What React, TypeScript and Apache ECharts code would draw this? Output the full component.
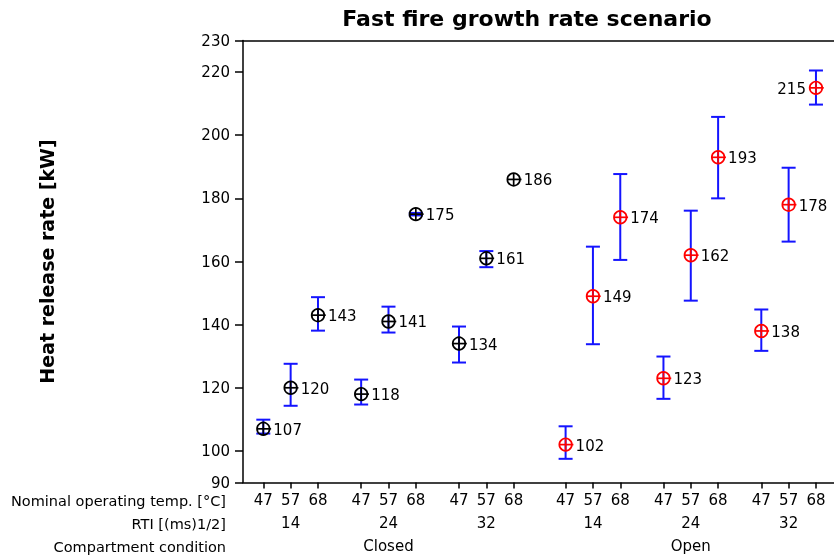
import React, { useEffect, useRef } from "react";
import * as echarts from "echarts";

// ---- data ----
const TEMPS = ["47", "57", "68"];
const RTI = ["14", "24", "32"];
const CONDITIONS = ["Closed", "Open"];
const Y_TICKS = [90, 100, 120, 140, 160, 180, 200, 220, 230];

// values ordered by RTI group (14, 24, 32) then temp (47, 57, 68)
const closedValues = [107, 120, 143, 118, 141, 175, 134, 161, 186];
const closedLow = [105.5, 114.3, 138.1, 114.7, 137.5, 174.6, 128.0, 158.2, 186];
const closedHigh = [109.9, 127.6, 148.7, 122.6, 145.7, 175.4, 139.4, 163.3, 186];

const openValues = [102, 149, 174, 123, 162, 193, 138, 178, 215];
const openLow = [97.5, 133.8, 160.5, 116.5, 147.6, 180.0, 131.7, 166.3, 209.7];
const openHigh = [107.8, 164.7, 187.7, 129.9, 176.1, 205.8, 144.8, 189.7, 220.5];

const LABEL_LEFT = [[], [8]]; // per condition: indices whose label sits left

// ---- layout ----
const GROUP_STEP = 3.58;
const COND_GAP = 0.32;
const X_MIN = -0.743;
const X_MAX = 20.88;
const FONT = "DejaVu Sans";
const BLUE = "#1414ff";
const FS = 15;

const pos = (c: number, r: number, t: number) => (c * 3 + r) * GROUP_STEP + c * COND_GAP + t;

const tickPos: number[] = [];
const tickLab: string[] = [];
const rtiPos: number[] = [];
const rtiLab: string[] = [];
const condPos: number[] = [];
const condLab: string[] = [];
CONDITIONS.forEach((cn, c) => {
  condPos.push(pos(c, 1, 1));
  condLab.push(cn);
  RTI.forEach((rl, r) => {
    rtiPos.push(pos(c, r, 1));
    rtiLab.push(rl);
    TEMPS.forEach((tl, t) => {
      tickPos.push(pos(c, r, t));
      tickLab.push(tl);
    });
  });
});

const fmt = (ps: number[], ls: string[]) => (v: number) => {
  const i = ps.findIndex((p) => Math.abs(p - v) < 1e-6);
  return i >= 0 ? ls[i] : "";
};

export default function App() {
  const ref = useRef<HTMLDivElement>(null);
  useEffect(() => {
    if (!ref.current) return;
    const chart = echarts.init(ref.current, null, { renderer: "svg" });

    const errData: number[][] = [];
    const ptData: any[] = [];
    [
      [closedValues, closedLow, closedHigh],
      [openValues, openLow, openHigh],
    ].forEach(([vals, lo, hi], c) => {
      vals.forEach((v, i) => {
        const r = Math.floor(i / 3);
        const t = i % 3;
        const x = pos(c, r, t);
        errData.push([x, lo[i], hi[i]]);
        ptData.push([x, v, c, LABEL_LEFT[c].includes(i) ? 1 : 0]);
      });
    });

    const baseX = {
      type: "value",
      min: X_MIN,
      max: X_MAX,
      splitLine: { show: false },
    };
    const lab = { margin: 10, color: "#000", fontSize: FS, fontFamily: FONT };

    const option: any = {
      animation: false,
      grid: { left: 243, right: 0, top: 40.5, bottom: 74.5 },
      xAxis: [
        {
          ...baseX,
          position: "bottom",
          axisLine: { show: true, onZero: false, lineStyle: { color: "#000", width: 1.5 } },
          axisTick: { show: true, customValues: tickPos, length: 6, lineStyle: { color: "#000", width: 1.5 } },
          axisLabel: { ...lab, customValues: tickPos, formatter: fmt(tickPos, tickLab) },
        },
        {
          ...baseX,
          position: "bottom",
          offset: 23,
          axisLine: { show: false, onZero: false },
          axisTick: { show: false },
          axisLabel: { ...lab, customValues: rtiPos, formatter: fmt(rtiPos, rtiLab) },
        },
        {
          ...baseX,
          position: "bottom",
          offset: 46,
          axisLine: { show: false, onZero: false },
          axisTick: { show: false },
          axisLabel: { ...lab, customValues: condPos, formatter: fmt(condPos, condLab) },
        },
        {
          ...baseX,
          position: "top",
          axisLine: { show: true, onZero: false, lineStyle: { color: "#000", width: 1.5 } },
          axisTick: { show: false },
          axisLabel: { show: false },
        },
      ],
      yAxis: {
        type: "value",
        min: 90,
        max: 230,
        splitLine: { show: false },
        axisLine: { show: true, onZero: false, lineStyle: { color: "#000", width: 1.5 } },
        axisTick: { show: true, customValues: Y_TICKS, length: 8, lineStyle: { color: "#000", width: 1.5 } },
        axisLabel: { ...lab, margin: 13, customValues: Y_TICKS },
      },
      graphic: [
        {
          type: "text",
          x: 527,
          y: 18,
          style: { text: "Fast fire growth rate scenario", fill: "#000", font: `bold 22px "${FONT}"`, align: "center", verticalAlign: "middle", textAlign: "center", textVerticalAlign: "middle" },
        },
        {
          type: "text",
          x: 47,
          y: 261.5,
          rotation: Math.PI / 2,
          style: { text: "Heat release rate [kW]", fill: "#000", font: `bold 19px "${FONT}"`, align: "center", verticalAlign: "middle", textAlign: "center", textVerticalAlign: "middle" },
        },
        ...["Nominal operating temp. [°C]", "RTI [(ms)1/2]", "Compartment condition"].map((t, i) => ({
          type: "text",
          x: 226,
          y: 500.5 + i * 23,
          style: { text: t, fill: "#000", font: `14.5px "${FONT}"`, align: "right", verticalAlign: "middle", textAlign: "right", textVerticalAlign: "middle" },
        })),
      ],
      series: [
        {
          type: "custom",
          xAxisIndex: 0,
          data: errData,
          renderItem: (params: any, api: any) => {
            const x = api.value(0);
            const lo = api.value(1);
            const hi = api.value(2);
            if (hi - lo < 1e-9) return { type: "group", children: [] };
            const a = api.coord([x, lo]);
            const b = api.coord([x, hi]);
            const hw = 7;
            const st = { stroke: BLUE, lineWidth: 2 };
            return {
              type: "group",
              children: [
                { type: "line", shape: { x1: a[0], y1: a[1], x2: b[0], y2: b[1] }, style: st },
                { type: "line", shape: { x1: a[0] - hw, y1: a[1], x2: a[0] + hw, y2: a[1] }, style: st },
                { type: "line", shape: { x1: b[0] - hw, y1: b[1], x2: b[0] + hw, y2: b[1] }, style: st },
              ],
            };
          },
        },
        {
          type: "custom",
          xAxisIndex: 0,
          data: ptData,
          renderItem: (params: any, api: any) => {
            const x = api.value(0);
            const v = api.value(1);
            const c = api.value(2);
            const left = api.value(3) === 1;
            const p = api.coord([x, v]);
            const col = c === 0 ? "#000" : "#ff0000";
            const r = 6.3;
            const st = { stroke: col, lineWidth: 1.7, fill: "none" };
            return {
              type: "group",
              children: [
                { type: "circle", shape: { cx: p[0], cy: p[1], r }, style: st },
                { type: "line", shape: { x1: p[0] - r, y1: p[1], x2: p[0] + r + 1.5, y2: p[1] }, style: st },
                { type: "line", shape: { x1: p[0], y1: p[1] - r, x2: p[0], y2: p[1] + r }, style: st },
                {
                  type: "text",
                  x: left ? p[0] - 10 : p[0] + 10,
                  y: p[1] + 1,
                  style: {
                    text: String(v),
                    fill: "#000",
                    font: `${FS}px "${FONT}"`,
                    align: left ? "right" : "left",
                    verticalAlign: "middle",
                    textAlign: left ? "right" : "left",
                    textVerticalAlign: "middle",
                  },
                },
              ],
            };
          },
        },
      ],
    };
    chart.setOption(option);
    return () => chart.dispose();
  }, []);
  return <div ref={ref} style={{ position: "fixed", left: 0, top: 0, width: 834, height: 557 }} />;
}
